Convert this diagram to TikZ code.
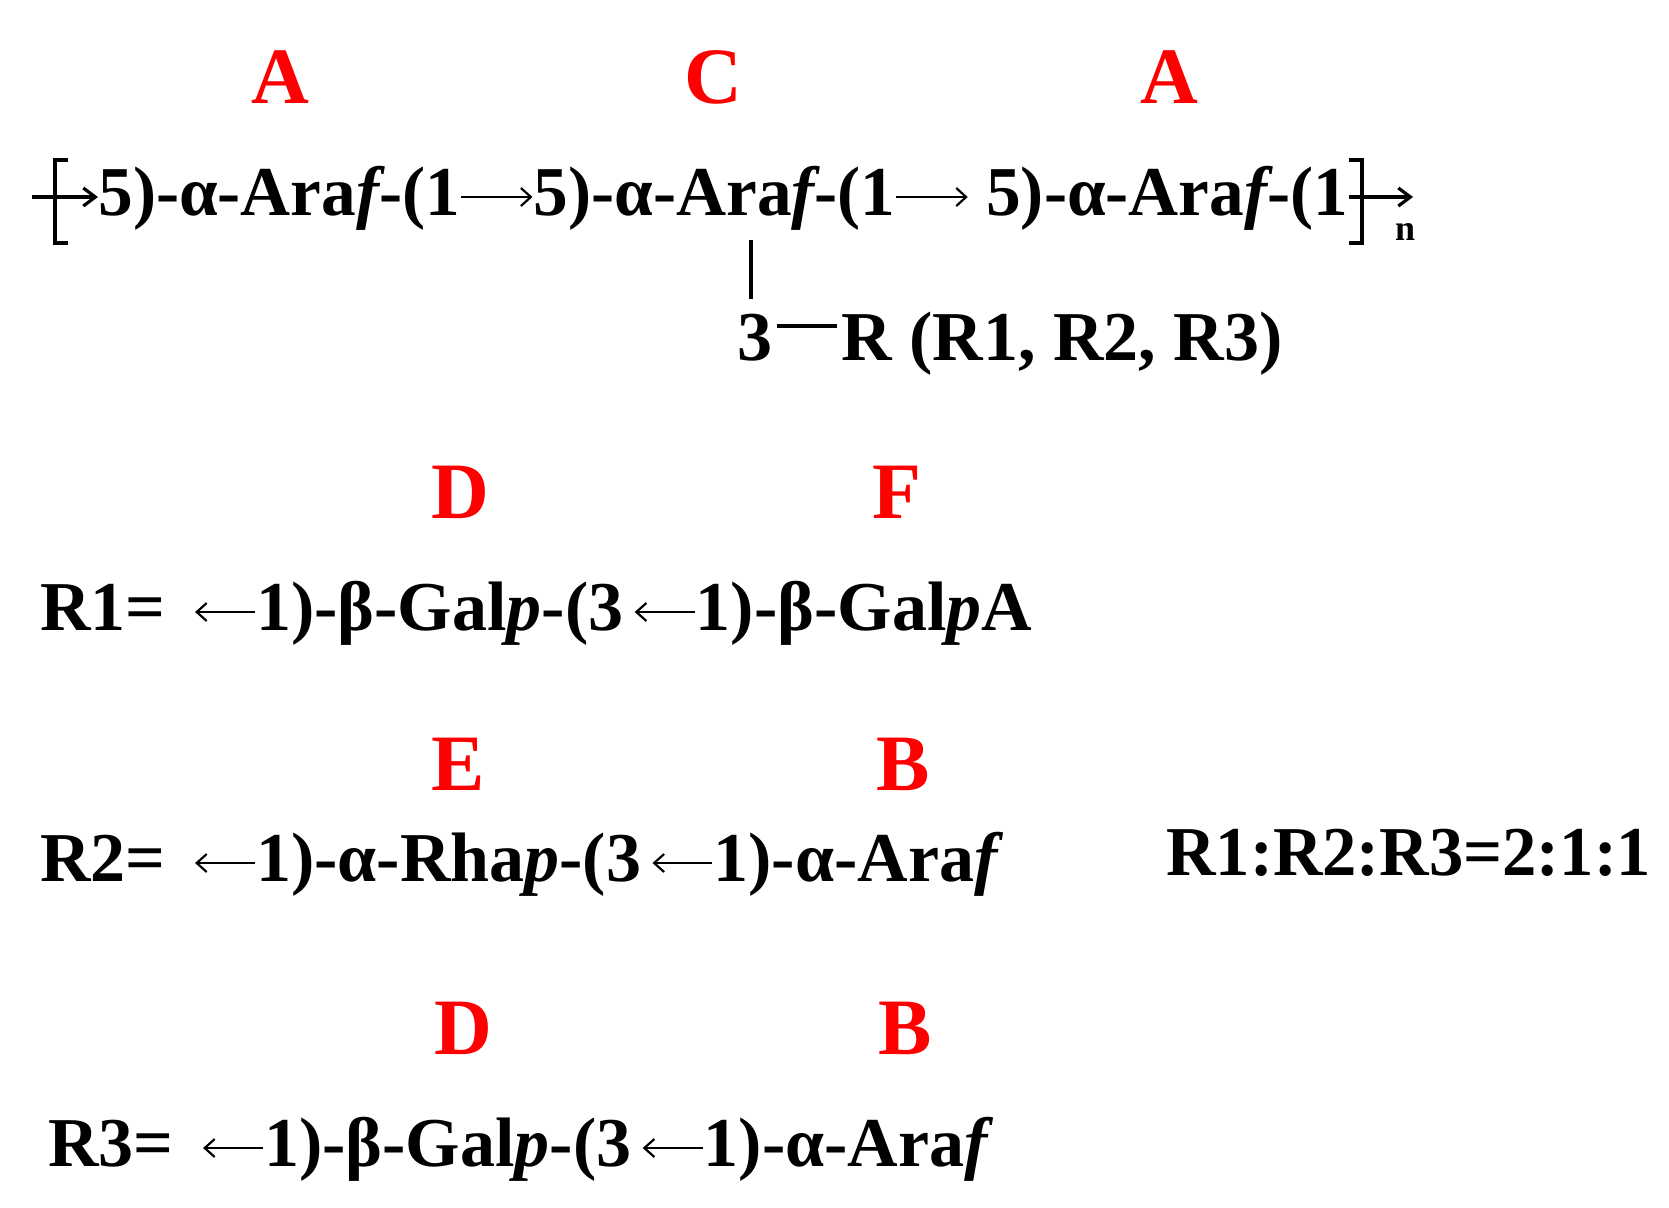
\documentclass[tikz,border=0pt]{standalone}
\usepackage{fontspec}
\setmainfont{Liberation Serif}
\usetikzlibrary{arrows.meta}
\usepackage{xcolor}

\newcommand{\ra}{\tikz[baseline=0pt]\draw[line width=1.1pt,-{Straight Barb[length=5pt,width=9pt]}] (0pt,9pt) -- (36pt,9pt);}
\newcommand{\la}{\tikz[baseline=0pt]\draw[line width=1.1pt,{Straight Barb[length=5pt,width=9pt]}-] (0pt,9pt) -- (30pt,9pt);}
\newcommand{\fur}{\textit{f}\kern-3pt}
\newcommand{\sq}[1]{\scalebox{0.99}[1]{#1}}

\tikzset{
  lab/.style={text=red, inner sep=0pt, anchor=base, font=\fontsize{40}{44}\selectfont\bfseries},
  txt/.style={inner sep=0pt, anchor=base west, font=\fontsize{35}{40}\selectfont\bfseries},
  bond/.style={line width=2.4pt},
  brk/.style={line width=1.6pt}
}

\begin{document}
\begin{tikzpicture}[x=0.5pt, y=-0.5pt]
\useasboundingbox (0,0) rectangle (1669,1207);
% main chain
\node[lab] (labA1) at (280,103) {A};
\node[lab] (labC) at (713,103) {C};
\node[lab] (labA2) at (1169,103) {A};
\node[txt] (chain) at (98,215) {\sq{5)-α-Ara\fur-(1\ra5)-α-Ara\fur-(1\ra{} 5)-α-Ara\fur-(1}};
\draw[brk] (68,160) -| (55,243) -- (68,243);
\draw[brk] (1349,160) -| (1362,243) -- (1349,243);
\draw[brk, -{Straight Barb[length=6pt, width=9pt]}] (32,197) -- (98,197);
\draw[brk, -{Straight Barb[length=6pt, width=9pt]}] (1349,197) -- (1413,197);
\node[inner sep=0pt, font=\fontsize{18}{20}\selectfont\bfseries] (rep) at (1405,232) {n};
% branch at O-3
\coordinate (branch) at (751,240);
\node[txt] (three) at (737,360) {3};
\node[txt] (rgrp) at (841,360) {R (R1, R2, R3)};
\draw[bond] (branch) -- ([yshift=7pt]three.north -| branch);
\draw[bond] ([xshift=2pt, yshift=17pt]three.base east) -- ([xshift=-2pt, yshift=17pt]rgrp.base west);
% side chains
\node[lab] (labD1) at (460,518) {D};
\node[lab] (labF) at (897,518) {F};
\node[txt] (rone) at (40,630) {R1=\hspace{14pt}\la1)-β-Gal\textit{p}-(3\hspace{5pt}\la1)-β-Gal\textit{p}A};
\node[lab] (labE) at (458,790) {E};
\node[lab] (labB1) at (903,790) {B};
\node[txt] (rtwo) at (40,881) {R2=\hspace{14pt}\la1)-α-Rha\textit{p}-(3\hspace{5pt}\la1)-α-Ara\textit{f}};
\node[txt] (ratio) at (1166,875) {\scalebox{0.98}[1]{R1:R2:R3=2:1:1}};
\node[lab] (labD2) at (463,1054) {D};
\node[lab] (labB2) at (905,1054) {B};
\node[txt] (rthree) at (48,1166) {R3=\hspace{14pt}\la1)-β-Gal\textit{p}-(3\hspace{5pt}\la1)-α-Ara\textit{f}};
\end{tikzpicture}
\end{document}
